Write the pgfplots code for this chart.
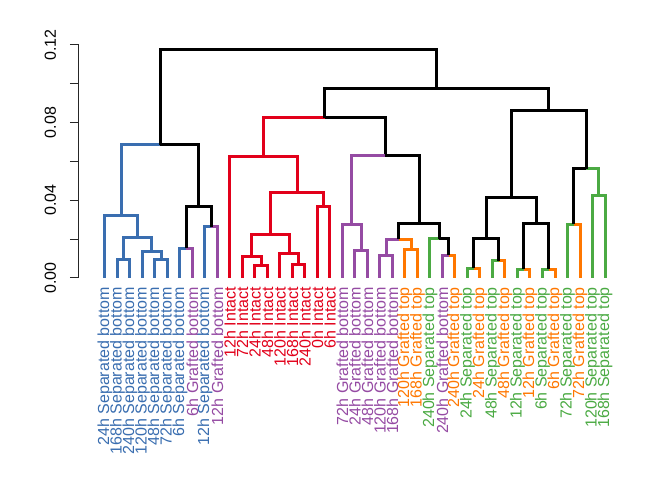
\documentclass[border=0pt]{standalone}
\usepackage{pgfplots}
\pgfplotsset{compat=1.18}
\usepackage{fontspec}
\setmainfont{Liberation Sans}

\definecolor{cblue}{HTML}{3A6EB0}
\definecolor{cred}{HTML}{E2001A}
\definecolor{cpurple}{HTML}{954BA3}
\definecolor{cgreen}{HTML}{4BAA43}
\definecolor{corange}{HTML}{FF7700}

\begin{document}
\begin{tikzpicture}
\begin{axis}[
    scale only axis,
    width=405.75pt, height=174.8pt,
    xmin=-1.08, xmax=42.2,
    ymin=0, ymax=0.12,
    enlargelimits=false,
    clip=false,
    axis x line=none,
    axis y line=left,
    y axis line style={-, line width=0.75pt, black!85},
    ytick={0,0.02,0.04,0.06,0.08,0.1,0.12},
    yticklabels={},
    tick align=outside,
    major tick length=6.75pt,
    ytick style={line width=0.75pt, black!85},
    every axis plot/.append style={line width=2.25pt, mark=none},
    font=\fontsize{12}{14}\selectfont,
]
% blue cluster
\addplot[cblue] coordinates {(2,0) (2,0.0093) (3,0.0093) (3,0)};
\addplot[cblue] coordinates {(5,0) (5,0.0093) (6,0.0093) (6,0)};
\addplot[cblue] coordinates {(4,0) (4,0.0137) (5.5,0.0137) (5.5,0.0093)};
\addplot[cblue] coordinates {(2.5,0.0093) (2.5,0.021) (4.75,0.021) (4.75,0.0137)};
\addplot[cblue] coordinates {(1,0) (1,0.0324) (3.625,0.0324) (3.625,0.021)};
\addplot[cblue] coordinates {(7,0) (7,0.0153) (7.5,0.0153)};
\addplot[cpurple] coordinates {(8,0) (8,0.0153) (7.5,0.0153)};
\addplot[cblue] coordinates {(9,0) (9,0.0264) (9.5,0.0264)};
\addplot[cpurple] coordinates {(10,0) (10,0.0264) (9.5,0.0264)};
\addplot[black] coordinates {(7.5,0.0153) (7.5,0.037) (9.5,0.037) (9.5,0.0264)};
\addplot[cblue] coordinates {(2.3125,0.0324) (2.3125,0.0685) (5.40625,0.0685)};
\addplot[black] coordinates {(8.5,0.037) (8.5,0.0685) (5.40625,0.0685)};
% red cluster
\addplot[cred] coordinates {(13,0) (13,0.0065) (14,0.0065) (14,0)};
\addplot[cred] coordinates {(12,0) (12,0.0113) (13.5,0.0113) (13.5,0.0065)};
\addplot[cred] coordinates {(16,0) (16,0.0071) (17,0.0071) (17,0)};
\addplot[cred] coordinates {(15,0) (15,0.0127) (16.5,0.0127) (16.5,0.0071)};
\addplot[cred] coordinates {(12.75,0.0113) (12.75,0.0225) (15.75,0.0225) (15.75,0.0127)};
\addplot[cred] coordinates {(18,0) (18,0.0367) (19,0.0367) (19,0)};
\addplot[cred] coordinates {(14.25,0.0225) (14.25,0.044) (18.5,0.044) (18.5,0.0367)};
\addplot[cred] coordinates {(11,0) (11,0.0623) (16.375,0.0623) (16.375,0.044)};
\addplot[cred] coordinates {(13.6875,0.0623) (13.6875,0.0826) (18.5625,0.0826)};
\addplot[black] coordinates {(23.4375,0.0629) (23.4375,0.0826) (18.5625,0.0826)};
% grafted bottom / top mix
\addplot[cpurple] coordinates {(21,0) (21,0.0139) (22,0.0139) (22,0)};
\addplot[cpurple] coordinates {(20,0) (20,0.0276) (21.5,0.0276) (21.5,0.0139)};
\addplot[cpurple] coordinates {(23,0) (23,0.0115) (24,0.0115) (24,0)};
\addplot[corange] coordinates {(25,0) (25,0.0148) (26,0.0148) (26,0)};
\addplot[cpurple] coordinates {(23.5,0.0115) (23.5,0.0199) (24.5,0.0199)};
\addplot[corange] coordinates {(25.5,0.0148) (25.5,0.0199) (24.5,0.0199)};
\addplot[cpurple] coordinates {(28,0) (28,0.0118) (28.5,0.0118)};
\addplot[corange] coordinates {(29,0) (29,0.0118) (28.5,0.0118)};
\addplot[cgreen] coordinates {(27,0) (27,0.0201) (27.75,0.0201)};
\addplot[black] coordinates {(28.5,0.0118) (28.5,0.0201) (27.75,0.0201)};
\addplot[black] coordinates {(24.5,0.0199) (24.5,0.0282) (27.75,0.0282) (27.75,0.0201)};
\addplot[cpurple] coordinates {(20.75,0.0276) (20.75,0.0629) (23.4375,0.0629)};
\addplot[black] coordinates {(26.125,0.0282) (26.125,0.0629) (23.4375,0.0629)};
% top cluster
\addplot[cgreen] coordinates {(30,0) (30,0.005) (30.5,0.005)};
\addplot[corange] coordinates {(31,0) (31,0.005) (30.5,0.005)};
\addplot[cgreen] coordinates {(32,0) (32,0.0088) (32.5,0.0088)};
\addplot[corange] coordinates {(33,0) (33,0.0088) (32.5,0.0088)};
\addplot[black] coordinates {(30.5,0.005) (30.5,0.0204) (32.5,0.0204) (32.5,0.0088)};
\addplot[cgreen] coordinates {(34,0) (34,0.0046) (34.5,0.0046)};
\addplot[corange] coordinates {(35,0) (35,0.0046) (34.5,0.0046)};
\addplot[cgreen] coordinates {(36,0) (36,0.0046) (36.5,0.0046)};
\addplot[corange] coordinates {(37,0) (37,0.0046) (36.5,0.0046)};
\addplot[black] coordinates {(34.5,0.0046) (34.5,0.0278) (36.5,0.0278) (36.5,0.0046)};
\addplot[black] coordinates {(31.5,0.0204) (31.5,0.0416) (35.5,0.0416) (35.5,0.0278)};
\addplot[cgreen] coordinates {(38,0) (38,0.0276) (38.5,0.0276)};
\addplot[corange] coordinates {(39,0) (39,0.0276) (38.5,0.0276)};
\addplot[cgreen] coordinates {(40,0) (40,0.0424) (41,0.0424) (41,0)};
\addplot[black] coordinates {(38.5,0.0276) (38.5,0.0561) (39.5,0.0561)};
\addplot[cgreen] coordinates {(40.5,0.0424) (40.5,0.0561) (39.5,0.0561)};
\addplot[black] coordinates {(33.5,0.0416) (33.5,0.086) (39.5,0.086) (39.5,0.0561)};
% upper merges
\addplot[black] coordinates {(18.5625,0.0826) (18.5625,0.0975) (36.5,0.0975) (36.5,0.086)};
\addplot[black] coordinates {(5.40625,0.0685) (5.40625,0.1177) (27.53125,0.1177) (27.53125,0.0975)};

% y tick labels
\foreach \v in {0.00,0.04,0.08,0.12}{
  \edef\temp{\noexpand\node[rotate=90, anchor=base, inner sep=0pt] at (axis cs:-2.92,\v) {\v};}
  \temp
}

% leaf labels
\foreach \i/\c/\t in {
  1/cblue/24h Separated bottom, 2/cblue/168h Separated bottom,
  3/cblue/240h Separated bottom, 4/cblue/120h Separated bottom,
  5/cblue/48h Separated bottom, 6/cblue/72h Separated bottom,
  7/cblue/6h Separated bottom, 8/cpurple/6h Grafted bottom,
  9/cblue/12h Separated bottom, 10/cpurple/12h Grafted bottom,
  11/cred/12h Intact, 12/cred/72h Intact, 13/cred/24h Intact,
  14/cred/48h Intact, 15/cred/120h Intact, 16/cred/168h Intact,
  17/cred/240h Intact, 18/cred/0h Intact, 19/cred/6h Intact,
  20/cpurple/72h Grafted bottom, 21/cpurple/24h Grafted bottom,
  22/cpurple/48h Grafted bottom, 23/cpurple/120h Grafted bottom,
  24/cpurple/168h Grafted bottom, 25/corange/120h Grafted top,
  26/corange/168h Grafted top, 27/cgreen/240h Separated top,
  28/cpurple/240h Grafted bottom, 29/corange/240h Grafted top,
  30/cgreen/24h Separated top, 31/corange/24h Grafted top,
  32/cgreen/48h Separated top, 33/corange/48h Grafted top,
  34/cgreen/12h Separated top, 35/corange/12h Grafted top,
  36/cgreen/6h Separated top, 37/corange/6h Grafted top,
  38/cgreen/72h Separated top, 39/corange/72h Grafted top,
  40/cgreen/120h Separated top, 41/cgreen/168h Separated top}{
  \edef\temp{\noexpand\node[rotate=90, anchor=east, inner sep=0pt, text=\c] at (axis cs:\i,-0.0046) {\t};}
  \temp
}

\coordinate (bl) at (axis cs:-7.4,-0.10399);
\coordinate (tr) at (axis cs:46.36,0.14311);
\end{axis}
\pgfresetboundingbox
\useasboundingbox (bl) rectangle (tr);
\end{tikzpicture}
\end{document}
